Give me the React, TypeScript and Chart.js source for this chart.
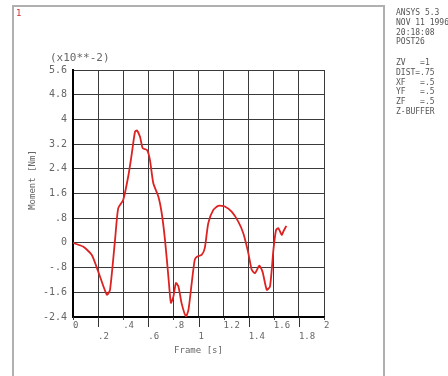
import React, { useEffect, useRef } from 'react';
import { Chart, registerables } from 'chart.js';

Chart.register(...registerables);

const times = [0, 0.08, 0.15, 0.215, 0.27, 0.295, 0.335, 0.36, 0.4, 0.44, 0.467, 0.494, 0.51, 0.534, 0.555, 0.59, 0.613, 0.64, 0.68, 0.707, 0.733, 0.76, 0.78, 0.8, 0.82, 0.84, 0.865, 0.9, 0.92, 0.946, 0.97, 0.99, 1.025, 1.05, 1.078, 1.118, 1.158, 1.21, 1.264, 1.317, 1.357, 1.397, 1.424, 1.45, 1.485, 1.51, 1.544, 1.57, 1.597, 1.618, 1.636, 1.663, 1.676, 1.7];
const moments = [0, -0.12, -0.39, -1.09, -1.68, -1.52, 0.1, 1.12, 1.39, 2.15, 2.85, 3.6, 3.64, 3.44, 3.07, 3.01, 2.69, 1.93, 1.5, 0.96, 0.1, -1.09, -1.94, -1.74, -1.3, -1.41, -1.95, -2.38, -2.17, -1.3, -0.55, -0.44, -0.39, -0.17, 0.64, 1.07, 1.2, 1.18, 1.01, 0.69, 0.31, -0.33, -0.87, -0.98, -0.74, -0.93, -1.52, -1.41, -0.22, 0.42, 0.48, 0.26, 0.37, 0.55];

const xTicks = [0, 0.2, 0.4, 0.6, 0.8, 1, 1.2, 1.4, 1.6, 1.8, 2];
const yTicks = [-2.4, -1.6, -0.8, 0, 0.8, 1.6, 2.4, 3.2, 4, 4.8, 5.6];

const xTitle = 'Frame [s]';
const yTitle = 'Moment [Nm]';
const multiplier = '(x10**-2)';
const plotNumber = '1';
const infoTop = ['ANSYS 5.3', 'NOV 11 1996', '20:18:08', 'POST26'];
const infoBottom = ['ZV   =1', 'DIST=.75', 'XF   =.5', 'YF   =.5', 'ZF   =.5', 'Z-BUFFER'];

const MONO = '"DejaVu Sans Mono", monospace';

function fmt(v: number): string {
  let s = String(Math.round(v * 10) / 10);
  s = s.replace(/^0\./, '.').replace(/^-0\./, '-.');
  return s;
}

const decorPlugin = {
  id: 'ansysDecor',
  beforeDraw(chart: any) {
    const ctx = chart.ctx;
    ctx.save();
    ctx.fillStyle = '#ffffff';
    ctx.fillRect(0, 0, chart.width, chart.height);
    ctx.strokeStyle = '#b0b0b0';
    ctx.lineWidth = 2;
    ctx.strokeRect(13, 6, 371, 400);
    ctx.restore();
  },
  afterDraw(chart: any) {
    const ctx = chart.ctx;
    const xs = chart.scales.x;
    ctx.save();
    ctx.strokeStyle = '#333';
    ctx.lineWidth = 1;
    xTicks.forEach((t, i) => {
      const px = Math.round(xs.getPixelForValue(t)) + 0.5;
      const len = i % 2 === 1 ? 10 : 3;
      ctx.beginPath();
      ctx.moveTo(px, xs.top);
      ctx.lineTo(px, xs.top + len);
      ctx.stroke();
    });
    ctx.fillStyle = '#d03030';
    ctx.font = '9px ' + MONO;
    ctx.textBaseline = 'middle';
    ctx.fillText(plotNumber, 16, 14);
    ctx.fillStyle = '#666';
    ctx.font = '11px ' + MONO;
    ctx.fillText(multiplier, 50, 58);
    // y title
    ctx.save();
    ctx.translate(33, 180);
    ctx.rotate(-Math.PI / 2);
    ctx.textAlign = 'center';
    ctx.font = '9px ' + MONO;
    ctx.fillText(yTitle, 0, 0);
    ctx.restore();
    ctx.fillStyle = '#555';
    ctx.font = '8px ' + MONO;
    infoTop.forEach((s, i) => ctx.fillText(s, 396, 13 + i * 9.8));
    infoBottom.forEach((s, i) => ctx.fillText(s, 396, 63 + i * 9.8));
    ctx.restore();
  },
};

export default function App() {
  const ref = useRef<HTMLCanvasElement>(null);
  useEffect(() => {
    if (!ref.current) return;
    const chart = new Chart(ref.current, {
      type: 'line',
      data: {
        datasets: [
          {
            data: times.map((t, i) => ({ x: t, y: moments[i] })),
            borderColor: '#dd2222',
            borderWidth: 1.8,
            pointRadius: 0,
            tension: 0.2,
            fill: false,
          },
        ],
      },
      options: {
        responsive: false,
        animation: false,
        layout: { padding: { left: 27, right: 124, top: 70, bottom: 0 } },
        plugins: { legend: { display: false }, tooltip: { enabled: false } },
        scales: {
          x: {
            type: 'linear',
            min: 0,
            max: 2,
            afterBuildTicks: (s: any) => {
              s.ticks = xTicks.map((v) => ({ value: v }));
            },
            afterFit: (s: any) => {
              s.height = 59;
            },
            grid: { color: '#3a3a3a', lineWidth: 1, drawTicks: false },
            border: { display: true, color: '#000', width: 2 },
            ticks: {
              autoSkip: false,
              maxRotation: 0,
              align: 'start',
              padding: 3,
              color: '#666',
              font: { family: MONO, size: 9, lineHeight: 1.25 },
              callback: (v: any, i: number) => (i % 2 === 0 ? fmt(Number(v)) : ['', fmt(Number(v))]),
            },
            title: {
              display: true,
              text: xTitle,
              color: '#666',
              font: { family: MONO, size: 9, lineHeight: 1.2 },
              padding: { top: 0, bottom: 20 },
            },
          },
          y: {
            type: 'linear',
            min: -2.4,
            max: 5.6,
            afterBuildTicks: (s: any) => {
              s.ticks = yTicks.map((v) => ({ value: v }));
            },
            afterFit: (s: any) => {
              s.width = 46;
            },
            grid: { color: '#3a3a3a', lineWidth: 1, drawTicks: false },
            border: { display: true, color: '#000', width: 2 },
            ticks: {
              padding: 6,
              color: '#666',
              font: { family: MONO, size: 10 },
              callback: (v: any) => fmt(Number(v)),
            },
            title: { display: false },
          },
        },
      },
      plugins: [decorPlugin],
    } as any);
    return () => chart.destroy();
  }, []);
  return (
    <div style={{ position: 'absolute', left: 0, top: 0, width: 448, height: 376 }}>
      <canvas ref={ref} width={448} height={376} style={{ width: 448, height: 376 }} />
    </div>
  );
}
